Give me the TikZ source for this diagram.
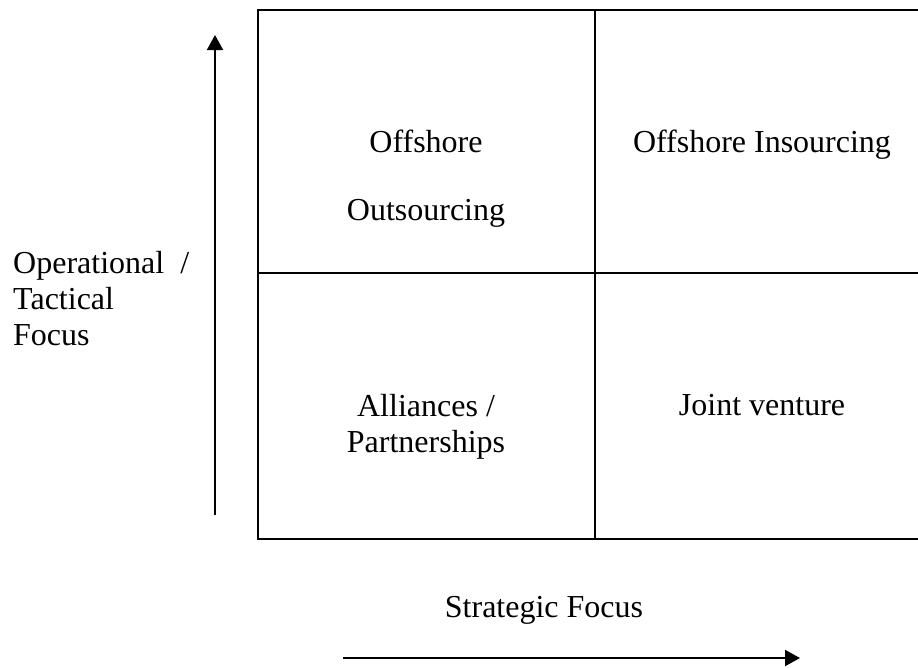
\documentclass[tikz,border=0pt]{standalone}
\usepackage{fontspec}
\setmainfont{Liberation Serif}
\usetikzlibrary{arrows.meta}

\tikzset{
  celltext/.style={font=\fontsize{32}{37}\selectfont, inner sep=0pt, anchor=base},
  axisarrow/.style={line width=2pt, -{Triangle[length=15pt, width=16pt]}},
  gridline/.style={line width=1.8pt},
}

\begin{document}
\begin{tikzpicture}[x=1pt, y=-1pt]
\useasboundingbox (0,0) rectangle (918,667);
\clip (0,0) rectangle (918,667);
% the 2x2 grid
\draw[gridline] (258,10) rectangle (930,539);
\draw[gridline] (595,10) -- (595,539);
\draw[gridline] (258,273) -- (930,273);
% cell texts
\node[celltext] (offshore) at (426,152) {Offshore};
\node[celltext] (outsourcing) at (426,220) {Outsourcing};
\node[celltext] (insourcing) at (762,152) {Offshore Insourcing};
\node[celltext] (alliances) at (426,416) {Alliances /};
\node[celltext] (partners) at (426,452) {Partnerships};
\node[celltext] (joint) at (762,415) {Joint venture};
% axis labels
\node[celltext, anchor=base west] (operational) at (13,273) {Operational\ \ /};
\node[celltext, anchor=base west] (tactical) at (13,309) {Tactical};
\node[celltext, anchor=base west] (focus) at (13,345) {Focus};
\node[celltext] (strategic) at (544,617) {Strategic Focus};
% axes
\coordinate (upfoot) at (215,515);
\coordinate (uptip) at (215,35);
\coordinate (rightfoot) at (343,658);
\coordinate (righttip) at (800,658);
\draw[axisarrow] (upfoot) -- (uptip);
\draw[axisarrow] (rightfoot) -- (righttip);
\end{tikzpicture}
\end{document}
